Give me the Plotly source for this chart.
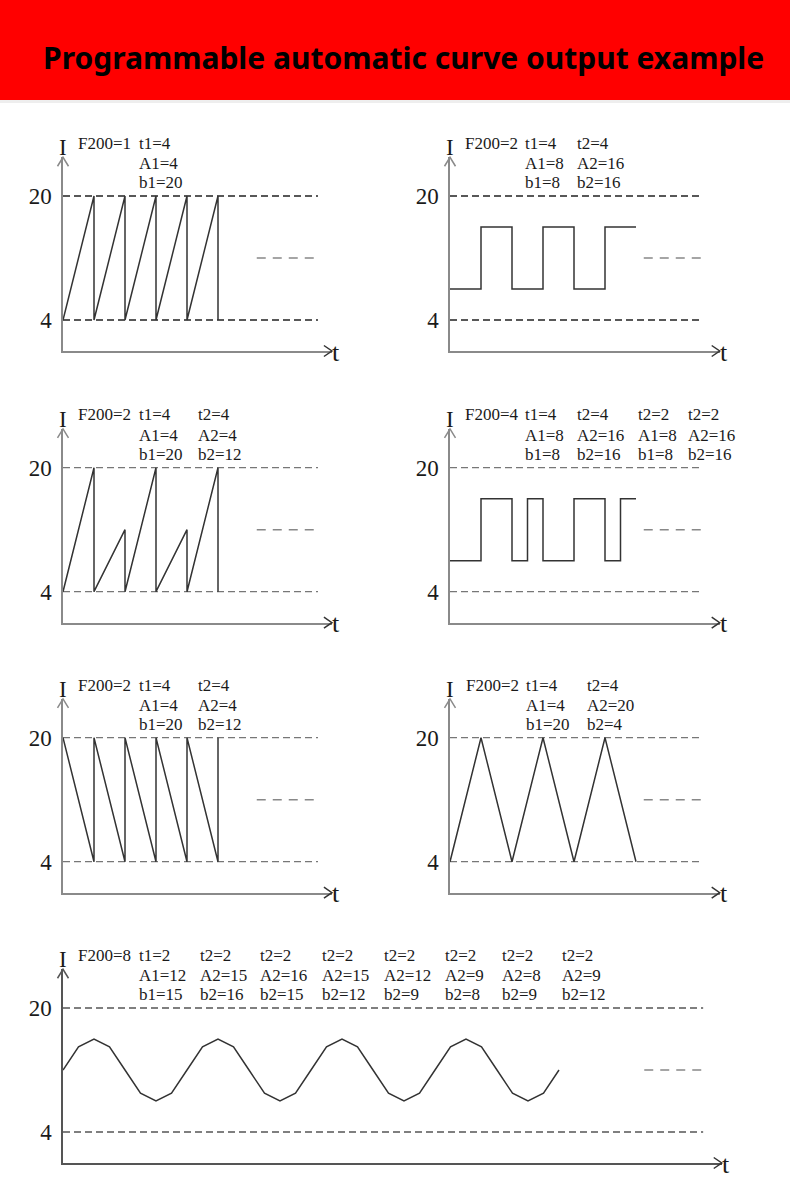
import plotly.graph_objects as go

# ---------------- data ----------------
levels = [4, 20]          # dashed reference levels (mA)
level_text = ["4", "20"]
cont_level = 12           # level of the short "continues" dash

p1_t = [0, 4, 4, 8, 8, 12, 12, 16, 16, 20, 20]
p1_I = [4, 20, 4, 20, 4, 20, 4, 20, 4, 20, 4]

p2_t = [0, 4, 4, 8, 8, 12, 12, 16, 16, 20, 20, 24]
p2_I = [8, 8, 16, 16, 8, 8, 16, 16, 8, 8, 16, 16]

p3_t = [0, 4, 4, 8, 8, 12, 12, 16, 16, 20, 20]
p3_I = [4, 20, 4, 12, 4, 20, 4, 12, 4, 20, 4]

p4_t = [0, 4, 4, 8, 8, 10, 10, 12, 12, 16, 16, 20, 20, 22, 22, 24]
p4_I = [8, 8, 16, 16, 8, 8, 16, 16, 8, 8, 16, 16, 8, 8, 16, 16]

p5_t = [0, 4, 4, 8, 8, 12, 12, 16, 16, 20, 20]
p5_I = [20, 4, 20, 4, 20, 4, 20, 4, 20, 4, 20]

p6_t = [0, 4, 8, 12, 16, 20, 24]
p6_I = [4, 20, 4, 20, 4, 20, 4]

p7_t = [0, 2, 4, 6, 8, 10, 12, 14, 16, 18, 20, 22, 24, 26, 28, 30, 32,
        34, 36, 38, 40, 42, 44, 46, 48, 50, 52, 54, 56, 58, 60, 62, 64]
p7_I = [12, 15, 16, 15, 12, 9, 8, 9, 12, 15, 16, 15, 12, 9, 8, 9, 12,
        15, 16, 15, 12, 9, 8, 9, 12, 15, 16, 15, 12, 9, 8, 9, 12]

p1_labels = [["F200=1"], ["t1=4", "A1=4", "b1=20"]]
p2_labels = [["F200=2"], ["t1=4", "A1=8", "b1=8"], ["t2=4", "A2=16", "b2=16"]]
p3_labels = [["F200=2"], ["t1=4", "A1=4", "b1=20"], ["t2=4", "A2=4", "b2=12"]]
p4_labels = [["F200=4"], ["t1=4", "A1=8", "b1=8"], ["t2=4", "A2=16", "b2=16"],
             ["t2=2", "A1=8", "b1=8"], ["t2=2", "A2=16", "b2=16"]]
p5_labels = [["F200=2"], ["t1=4", "A1=4", "b1=20"], ["t2=4", "A2=4", "b2=12"]]
p6_labels = [["F200=2"], ["t1=4", "A1=4", "b1=20"], ["t2=4", "A2=20", "b2=4"]]
p7_labels = [["F200=8"], ["t1=2", "A1=12", "b1=15"], ["t2=2", "A2=15", "b2=16"],
             ["t2=2", "A2=16", "b2=15"], ["t2=2", "A2=15", "b2=12"],
             ["t2=2", "A2=12", "b2=9"], ["t2=2", "A2=9", "b2=8"],
             ["t2=2", "A2=8", "b2=9"], ["t2=2", "A2=9", "b2=12"]]

title_text = "Programmable automatic curve output example"

# ---------------- geometry / style ----------------
W, H = 790, 1197
S = 7.75           # pixels per unit on both axes
YMAX = 25.0
SERIF = "Liberation Serif"

panels = [
    dict(t=p1_t, I=p1_I, lab=p1_labels, ox=63, oy=351, xmax=34.7, dend=32.9, cstart=25.0,
         cols=[1.7, 9.5], dash_col="#222", axis_col="#8a8a8a"),
    dict(t=p2_t, I=p2_I, lab=p2_labels, ox=450, oy=351, xmax=34.8, dend=32.5, cstart=25.0,
         cols=[1.7, 9.45, 16.1], dash_col="#222", axis_col="#8a8a8a"),
    dict(t=p3_t, I=p3_I, lab=p3_labels, ox=63, oy=622.7, xmax=34.7, dend=32.9, cstart=25.0,
         cols=[1.65, 9.5, 17.1], dash_col="#777", axis_col="#8a8a8a"),
    dict(t=p4_t, I=p4_I, lab=p4_labels, ox=450, oy=622.7, xmax=34.8, dend=32.5, cstart=25.0,
         cols=[1.7, 9.4, 16.1, 24.0, 30.4], dash_col="#777", axis_col="#8a8a8a"),
    dict(t=p5_t, I=p5_I, lab=p5_labels, ox=63, oy=892.7, xmax=34.7, dend=32.9, cstart=25.0,
         cols=[1.65, 9.5, 17.1], dash_col="#777", axis_col="#8a8a8a"),
    dict(t=p6_t, I=p6_I, lab=p6_labels, ox=450, oy=892.7, xmax=34.8, dend=32.5, cstart=25.0,
         cols=[1.85, 9.6, 17.4], dash_col="#777", axis_col="#8a8a8a"),
    dict(t=p7_t, I=p7_I, lab=p7_labels, ox=63, oy=1163, xmax=85.0, dend=82.6, cstart=75.0,
         cols=[1.65, 9.6, 17.4, 25.2, 33.2, 41.1, 49.0, 56.4, 64.1],
         dash_col="#555", axis_col="#555"),
]
LINE_Y = [26.8, 24.2, 21.7]   # label rows, in I units


def px(x):
    return x / W


def py(y):
    return 1 - y / H


fig = go.Figure()
shapes = []
annotations = []
layout = {}

for k, p in enumerate(panels, start=1):
    xs = "" if k == 1 else str(k)
    xref, yref = "x" + xs, "y" + xs
    ox, oy = p["ox"], p["oy"]
    tipx = ox + p["xmax"] * S
    tipy = oy - YMAX * S

    layout["xaxis" + xs] = dict(
        domain=[px(ox), px(tipx)], range=[0, p["xmax"]], anchor=yref,
        showline=True, linecolor=p["axis_col"], linewidth=1.5,
        showgrid=False, zeroline=False, showticklabels=False, ticks="",
        fixedrange=True)
    layout["yaxis" + xs] = dict(
        domain=[py(oy), py(tipy)], range=[0, YMAX], anchor=xref,
        showline=True, linecolor=p["axis_col"], linewidth=1.5,
        showgrid=False, zeroline=False, ticks="",
        tickvals=levels, ticktext=level_text, ticklabelstandoff=5,
        tickfont=dict(family=SERIF, size=23, color="#1a1a1a"),
        fixedrange=True)

    # dashed reference levels
    for lv in levels:
        fig.add_trace(go.Scatter(
            x=[0, p["dend"]], y=[lv, lv], mode="lines", xaxis=xref, yaxis=yref,
            line=dict(color=p["dash_col"], width=1.3, dash="7px,4px"),
            hoverinfo="skip", showlegend=False))
    # "continues" short dash
    fig.add_trace(go.Scatter(
        x=[p["cstart"], p["dend"]], y=[cont_level, cont_level], mode="lines",
        xaxis=xref, yaxis=yref,
        line=dict(color="#888", width=1.5, dash="9px,7px"),
        hoverinfo="skip", showlegend=False))
    # the curve
    fig.add_trace(go.Scatter(
        x=p["t"], y=p["I"], mode="lines", xaxis=xref, yaxis=yref,
        line=dict(color="#333", width=1.5), cliponaxis=False,
        hoverinfo="skip", showlegend=False))

    # arrow heads
    shapes.append(dict(type="path", xref="paper", yref="paper",
                       path=f"M{px(ox-5.5)},{py(tipy+9)} L{px(ox)},{py(tipy)} L{px(ox+5.5)},{py(tipy+9)}",
                       line=dict(color=p["axis_col"], width=1.5)))
    shapes.append(dict(type="path", xref="paper", yref="paper",
                       path=f"M{px(tipx-8)},{py(oy-5.5)} L{px(tipx)},{py(oy)} L{px(tipx-8)},{py(oy+5.5)}",
                       line=dict(color="#333", width=1.5)))

    # axis names
    annotations.append(dict(text="I", x=px(ox), y=py(oy - 26.2 * S), xref="paper", yref="paper",
                            xanchor="center", yanchor="middle", showarrow=False,
                            font=dict(family=SERIF, size=23, color="#1a1a1a")))
    annotations.append(dict(text="t", x=px(tipx - 2), y=py(oy + 1), xref="paper", yref="paper",
                            xanchor="left", yanchor="middle", showarrow=False,
                            font=dict(family=SERIF, size=26, color="#1a1a1a")))

    # parameter labels
    for col, lines in zip(p["cols"], p["lab"]):
        for row, txt in enumerate(lines):
            annotations.append(dict(
                text=txt, x=px(ox + col * S), y=py(oy - LINE_Y[row] * S),
                xref="paper", yref="paper", xanchor="left", yanchor="middle",
                showarrow=False, font=dict(family=SERIF, size=17, color="#1a1a1a")))

# title banner
shapes.insert(0, dict(type="rect", xref="paper", yref="paper", x0=0, x1=1,
                      y0=py(100), y1=1, fillcolor="#ff0000", line=dict(width=0), layer="below"))
shapes.insert(1, dict(type="rect", xref="paper", yref="paper", x0=0, x1=1,
                      y0=py(103), y1=py(100), fillcolor="#eeeeee", line=dict(width=0), layer="below"))
annotations.append(dict(text=f"<b>{title_text}</b>", x=px(403), y=py(57), xref="paper", yref="paper",
                        xanchor="center", yanchor="middle", showarrow=False,
                        font=dict(family="Noto Sans", size=30, color="#000")))

fig.update_layout(
    width=W, height=H, margin=dict(l=0, r=0, t=0, b=0),
    paper_bgcolor="white", plot_bgcolor="white",
    shapes=shapes, annotations=annotations, showlegend=False,
    **layout)

fig.write_html("out.html", config={"displayModeBar": False})
